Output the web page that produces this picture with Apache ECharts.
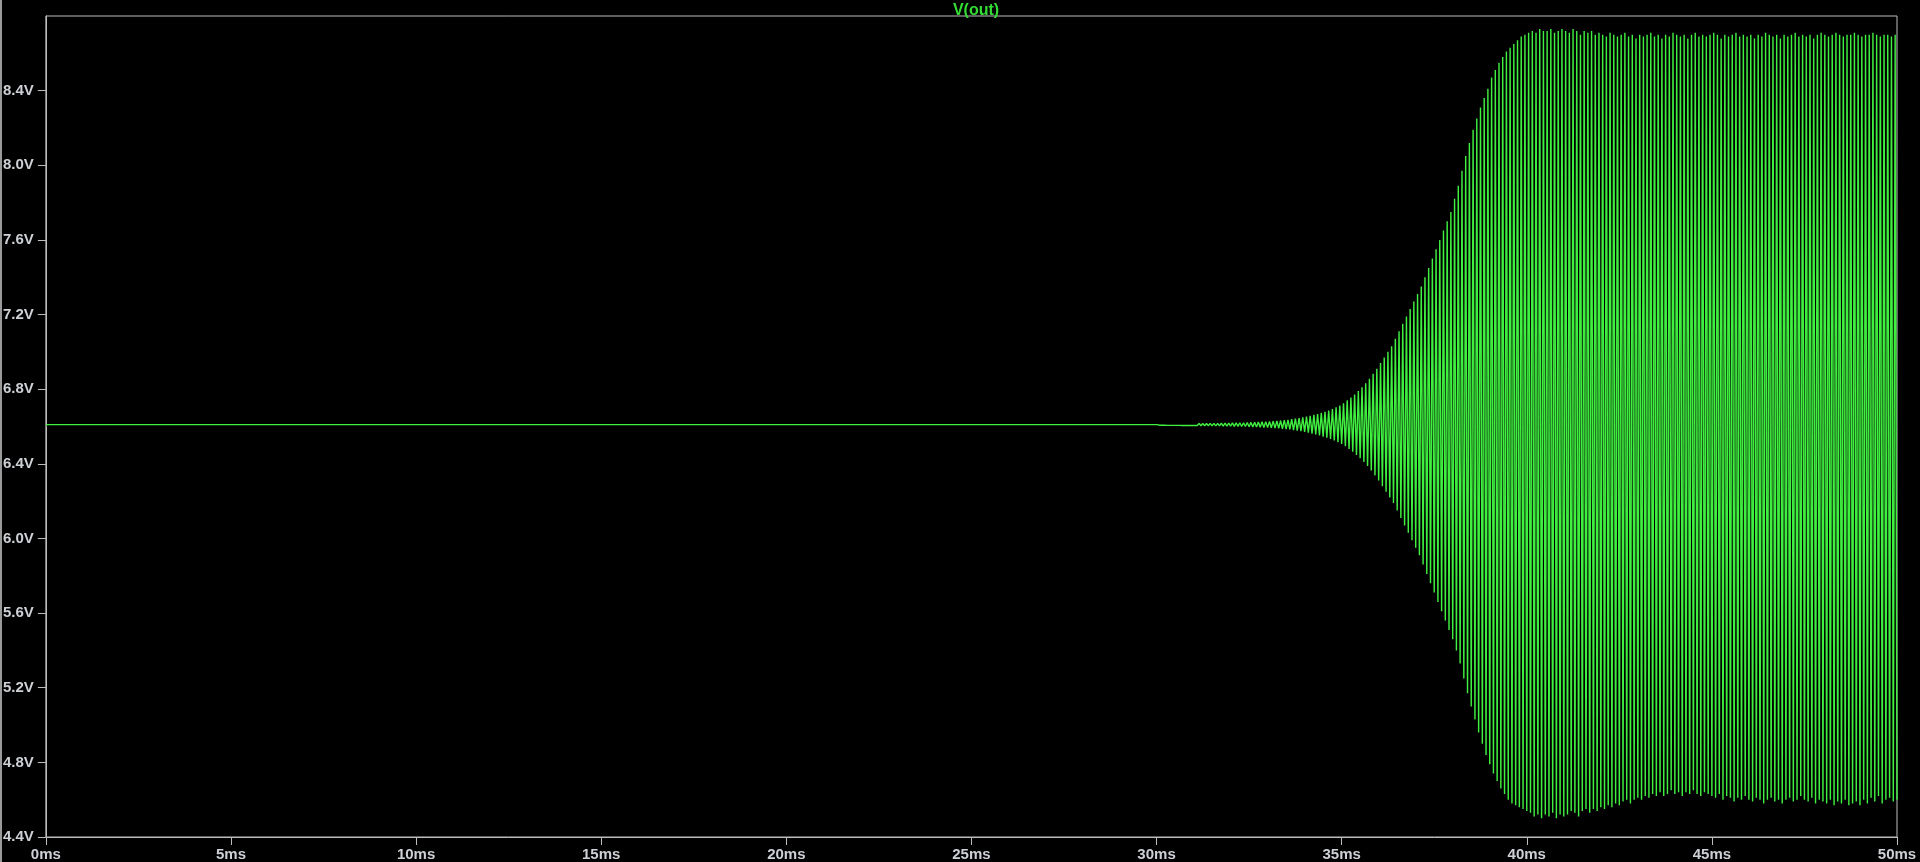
<!DOCTYPE html>
<html>
<head>
<meta charset="utf-8">
<title>V(out)</title>
<script src="https://cdn.jsdelivr.net/npm/echarts@6/dist/echarts.min.js"></script>
<style>
  html, body { margin: 0; padding: 0; background: #000; }
  #chart { width: 1920px; height: 862px; }
</style>
</head>
<body>
<div id="chart"></div>
<script>
// flat operating point before the oscillation starts (V)
var dcLevel = 6.61
var startMs = 30
var periodMs = 0.1

// peak value of each cycle from 30ms to 50ms (V)
var peaks = [
  6.613, 6.613, 6.614, 6.614, 6.614, 6.614, 6.615, 6.615, 6.615, 6.615,
  6.615, 6.616, 6.616, 6.616, 6.617, 6.617, 6.617, 6.618, 6.618, 6.618,
  6.619, 6.619, 6.620, 6.620, 6.621, 6.622, 6.623, 6.624, 6.625, 6.626,
  6.627, 6.629, 6.630, 6.632, 6.634, 6.636, 6.639, 6.642, 6.645, 6.649,
  6.653, 6.657, 6.662, 6.667, 6.673, 6.679, 6.686, 6.694, 6.703, 6.713,
  6.725, 6.740, 6.755, 6.772, 6.790, 6.810, 6.832, 6.856, 6.882, 6.910,
  6.94, 6.97, 7.00, 7.03, 7.07, 7.11, 7.15, 7.19, 7.23, 7.27,
  7.31, 7.35, 7.40, 7.45, 7.50, 7.55, 7.60, 7.65, 7.70, 7.75,
  7.82, 7.89, 7.97, 8.05, 8.12, 8.19, 8.25, 8.31, 8.36, 8.41,
  8.47, 8.51, 8.55, 8.58, 8.61, 8.63, 8.65, 8.67, 8.69, 8.70,
  8.71, 8.72, 8.71, 8.73, 8.72, 8.72, 8.73, 8.71, 8.72, 8.73,
  8.72, 8.71, 8.73, 8.72, 8.70, 8.72, 8.71, 8.72, 8.70, 8.71,
  8.70, 8.69, 8.71, 8.70, 8.69, 8.70, 8.71, 8.69, 8.70, 8.68,
  8.70, 8.69, 8.70, 8.71, 8.69, 8.70, 8.68, 8.70, 8.69, 8.71,
  8.70, 8.69, 8.70, 8.68, 8.70, 8.71, 8.69, 8.70, 8.69, 8.70,
  8.71, 8.70, 8.68, 8.70, 8.69, 8.70, 8.71, 8.69, 8.70, 8.69,
  8.70, 8.68, 8.70, 8.69, 8.71, 8.70, 8.69, 8.70, 8.68, 8.70,
  8.69, 8.70, 8.71, 8.69, 8.70, 8.69, 8.70, 8.68, 8.70, 8.71,
  8.70, 8.69, 8.70, 8.71, 8.70, 8.69, 8.70, 8.70, 8.71, 8.70,
  8.69, 8.70, 8.70, 8.71, 8.70, 8.69, 8.70, 8.70, 8.69, 8.70
]

// trough value of each cycle (V)
var troughs = [
  6.607, 6.607, 6.606, 6.606, 6.606, 6.606, 6.605, 6.605, 6.605, 6.605,
  6.605, 6.604, 6.604, 6.604, 6.603, 6.603, 6.603, 6.602, 6.602, 6.602,
  6.601, 6.601, 6.600, 6.600, 6.599, 6.598, 6.597, 6.596, 6.595, 6.594,
  6.593, 6.591, 6.590, 6.588, 6.586, 6.584, 6.581, 6.578, 6.575, 6.571,
  6.567, 6.562, 6.557, 6.552, 6.546, 6.540, 6.533, 6.525, 6.516, 6.506,
  6.494, 6.480, 6.465, 6.448, 6.430, 6.410, 6.388, 6.364, 6.338, 6.310,
  6.28, 6.25, 6.22, 6.19, 6.15, 6.11, 6.07, 6.03, 5.99, 5.95,
  5.91, 5.86, 5.81, 5.76, 5.71, 5.66, 5.61, 5.56, 5.51, 5.46,
  5.40, 5.33, 5.25, 5.17, 5.10, 5.03, 4.96, 4.90, 4.84, 4.79,
  4.74, 4.70, 4.66, 4.63, 4.60, 4.58, 4.57, 4.56, 4.55, 4.54,
  4.53, 4.51, 4.52, 4.50, 4.52, 4.51, 4.53, 4.50, 4.52, 4.51,
  4.52, 4.54, 4.53, 4.51, 4.54, 4.55, 4.53, 4.55, 4.54, 4.56,
  4.55, 4.57, 4.56, 4.58, 4.57, 4.59, 4.60, 4.58, 4.60, 4.61,
  4.60, 4.62, 4.61, 4.63, 4.62, 4.64, 4.62, 4.63, 4.65, 4.63,
  4.64, 4.62, 4.64, 4.63, 4.65, 4.63, 4.62, 4.64, 4.63, 4.62,
  4.61, 4.63, 4.60, 4.62, 4.61, 4.59, 4.61, 4.60, 4.62, 4.60,
  4.59, 4.61, 4.60, 4.58, 4.60, 4.61, 4.59, 4.60, 4.58, 4.60,
  4.61, 4.59, 4.60, 4.62, 4.60, 4.59, 4.61, 4.58, 4.60, 4.59,
  4.58, 4.60, 4.57, 4.59, 4.58, 4.60, 4.57, 4.58, 4.59, 4.57,
  4.60, 4.58, 4.61, 4.59, 4.62, 4.58, 4.60, 4.61, 4.59, 4.60
]

var labelColor = '#cdd0d4'
var frameColor = '#bdbdbd'
var traceColor = '#40f040'

// build the trace: flat line, then peak / trough of every cycle
var trace = [[0, dcLevel], [startMs, dcLevel]]
for (var i = 0; i < peaks.length; i++) {
  var t0 = startMs + i * periodMs
  trace.push([+(t0 + periodMs / 2).toFixed(3), peaks[i]])
  trace.push([+(t0 + periodMs).toFixed(3), troughs[i]])
}

var chart = echarts.init(document.getElementById('chart'))
chart.setOption({
  animation: false,
  backgroundColor: '#000',
  title: {
    text: 'V(out)',
    left: 971,
    top: -2,
    textAlign: 'center',
    textStyle: {
      color: '#33dd33',
      fontSize: 16,
      fontWeight: 'bold',
      fontFamily: 'Liberation Sans'
    }
  },
  graphic: [{
    type: 'rect',
    shape: { x: 0, y: 0, width: 2, height: 862 },
    style: { fill: '#9a9a9a' },
    silent: true
  }],
  grid: {
    left: 45,
    right: 23,
    top: 16,
    bottom: 23,
    show: true,
    borderColor: frameColor,
    borderWidth: 1,
    backgroundColor: '#000'
  },
  xAxis: {
    type: 'value',
    min: 0,
    max: 50,
    interval: 5,
    axisLine: { show: true, lineStyle: { color: frameColor, width: 1 } },
    axisTick: { show: true, length: 8, lineStyle: { color: frameColor } },
    splitLine: { show: false },
    axisLabel: {
      margin: 10,
      color: labelColor,
      fontSize: 15,
      fontWeight: 'bold',
      fontFamily: 'Liberation Sans',
      formatter: function(v) { return v + 'ms' }
    }
  },
  yAxis: {
    type: 'value',
    min: 4.4,
    max: 8.8,
    interval: 0.4,
    axisLine: { show: true, lineStyle: { color: frameColor, width: 1 } },
    axisTick: { show: true, length: 8, lineStyle: { color: frameColor } },
    splitLine: { show: false },
    axisLabel: {
      margin: 12,
      color: labelColor,
      fontSize: 15,
      fontWeight: 'bold',
      fontFamily: 'Liberation Sans',
      showMaxLabel: false,
      formatter: function(v) { return v.toFixed(1) + 'V' }
    }
  },
  series: [{
    name: 'V(out)',
    type: 'line',
    data: trace,
    showSymbol: false,
    symbol: 'none',
    sampling: false,
    lineStyle: { color: traceColor, width: 1.4 },
    z: 3
  }]
})
</script>
</body>
</html>
